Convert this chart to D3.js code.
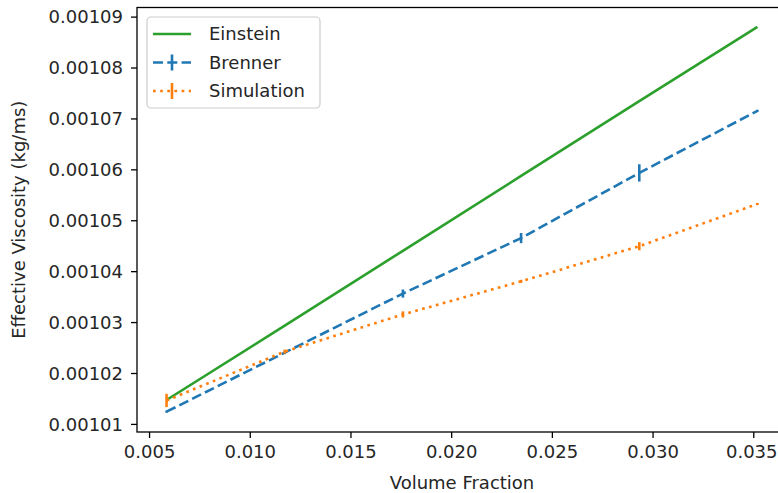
<!DOCTYPE html>
<html>
<head>
<meta charset="utf-8">
<script src="https://cdn.jsdelivr.net/npm/d3@7"></script>
<style>
  html, body { margin: 0; padding: 0; background: #fff; }
  svg { display: block; font-family: "DejaVu Sans", sans-serif; }
</style>
</head>
<body>
<svg id="chart" width="778" height="493"></svg>
<script>
// ---- data ----
const volumeFraction = [0.005868, 0.011736, 0.017604, 0.023472, 0.02934, 0.035208];
const einstein   = [0.0010147, 0.0010293, 0.0010440, 0.0010587, 0.0010734, 0.0010880];
const brenner    = [0.0010124, 0.0010240, 0.0010356, 0.0010465, 0.0010593, 0.0010715];
const brennerErr = [0.0000002, 0.0000003, 0.0000008, 0.0000010, 0.0000017, 0.0000002];
const simulation = [0.0010146, 0.0010242, 0.0010315, 0.0010380, 0.0010449, 0.0010532];
const simulationErr = [0.0000013, 0.0000004, 0.0000006, 0.0000003, 0.0000008, 0.0000002];
const xTicks = [0.005, 0.010, 0.015, 0.020, 0.025, 0.030, 0.035];
const yTicks = [0.00101, 0.00102, 0.00103, 0.00104, 0.00105, 0.00106, 0.00107, 0.00108, 0.00109];
const seriesNames = ["Einstein", "Brenner", "Simulation"];
const xLabel = "Volume Fraction";
const yLabel = "Effective Viscosity (kg/ms)";

// ---- layout ----
const svg = d3.select("#chart");
const plot = { left: 137, top: 7.5, right: 787, bottom: 432 };
const colors = { Einstein: "#2ca02c", Brenner: "#1f77b4", Simulation: "#ff7f0e" };
const LW = 2.6;

// matplotlib-like 5% margins
const xMin = d3.min(volumeFraction), xMax = d3.max(volumeFraction);
const xPad = (xMax - xMin) * 0.05;
const allY = [].concat(einstein, brenner.map((v, i) => v - brennerErr[i]), brenner.map((v, i) => v + brennerErr[i]),
  simulation.map((v, i) => v - simulationErr[i]), simulation.map((v, i) => v + simulationErr[i]));
const yMin = d3.min(allY), yMax = d3.max(allY);
const yPad = (yMax - yMin) * 0.05;

const x = d3.scaleLinear().domain([xMin - xPad, xMax + xPad]).range([plot.left, plot.right]);
const y = d3.scaleLinear().domain([yMin - yPad, yMax + yPad]).range([plot.bottom, plot.top]);

const line = d3.line().x(d => x(d[0])).y(d => y(d[1]));
const zip = arr => volumeFraction.map((v, i) => [v, arr[i]]);

// ---- series ----
const g = svg.append("g");

function errorBars(vals, errs, color) {
  g.append("g").selectAll("line").data(volumeFraction).join("line")
    .attr("x1", (d) => x(d)).attr("x2", (d) => x(d))
    .attr("y1", (d, i) => y(vals[i] - errs[i]))
    .attr("y2", (d, i) => y(vals[i] + errs[i]))
    .attr("stroke", color).attr("stroke-width", LW);
}

g.append("path").datum(zip(einstein)).attr("d", line)
  .attr("fill", "none").attr("stroke", colors.Einstein).attr("stroke-width", LW);

errorBars(brenner, brennerErr, colors.Brenner);
g.append("path").datum(zip(brenner)).attr("d", line)
  .attr("fill", "none").attr("stroke", colors.Brenner).attr("stroke-width", LW)
  .attr("stroke-dasharray", "10,4.3");

errorBars(simulation, simulationErr, colors.Simulation);
g.append("path").datum(zip(simulation)).attr("d", line)
  .attr("fill", "none").attr("stroke", colors.Simulation).attr("stroke-width", LW)
  .attr("stroke-dasharray", "2.7,4.45");

// ---- axes ----
const xAxis = d3.axisBottom(x).tickValues(xTicks).tickFormat(d3.format(".3f")).tickSize(6).tickPadding(7);
const yAxis = d3.axisLeft(y).tickValues(yTicks).tickFormat(d3.format(".5f")).tickSize(6).tickPadding(8);

const gx = svg.append("g").attr("transform", `translate(0,${plot.bottom})`).call(xAxis);
const gy = svg.append("g").attr("transform", `translate(${plot.left},0)`).call(yAxis);
[gx, gy].forEach(a => {
  a.select(".domain").remove();
  a.selectAll("line").attr("stroke", "#000").attr("stroke-width", 1.3);
  a.selectAll("text").attr("font-size", 18).attr("fill", "#262626")
    .attr("font-family", "DejaVu Sans, sans-serif");
});
gx.selectAll("text").attr("dy", "0.71em");
// keep the last x tick label inside the picture's right edge
gx.selectAll("text").filter(d => d === xTicks[xTicks.length - 1])
  .attr("text-anchor", "end").attr("x", 777 - x(xTicks[xTicks.length - 1]));
gy.selectAll("text").attr("dy", "0.35em");

// spines
svg.append("rect")
  .attr("x", plot.left).attr("y", plot.top)
  .attr("width", plot.right - plot.left).attr("height", plot.bottom - plot.top)
  .attr("fill", "none").attr("stroke", "#000").attr("stroke-width", 1.3);

// axis labels
svg.append("text").attr("x", (plot.left + plot.right) / 2).attr("y", 489)
  .attr("text-anchor", "middle").attr("font-size", 18).attr("fill", "#262626").text(xLabel);
svg.append("text").attr("transform", `translate(25,${(plot.top + plot.bottom) / 2}) rotate(-90)`)
  .attr("text-anchor", "middle").attr("font-size", 18).attr("fill", "#262626").text(yLabel);

// ---- legend ----
const leg = svg.append("g");
leg.append("rect").attr("x", 147).attr("y", 17).attr("width", 173).attr("height", 91)
  .attr("rx", 4).attr("fill", "#fff").attr("fill-opacity", 0.8)
  .attr("stroke", "#cccccc").attr("stroke-width", 1.2);
const rowY = [34, 62.5, 91];
const dashes = { Einstein: null, Brenner: "10,4.3", Simulation: "2.7,4.45" };
seriesNames.forEach((name, i) => {
  const ry = rowY[i];
  leg.append("line").attr("x1", 153).attr("x2", 191).attr("y1", ry).attr("y2", ry)
    .attr("stroke", colors[name]).attr("stroke-width", LW)
    .attr("stroke-dasharray", dashes[name]);
  if (name !== "Einstein") {
    leg.append("line").attr("x1", 172).attr("x2", 172).attr("y1", ry - 8).attr("y2", ry + 8)
      .attr("stroke", colors[name]).attr("stroke-width", LW);
  }
  leg.append("text").attr("x", 209).attr("y", ry).attr("dy", "0.35em")
    .attr("font-size", 18).attr("fill", "#262626").text(name);
});
</script>
</body>
</html>
